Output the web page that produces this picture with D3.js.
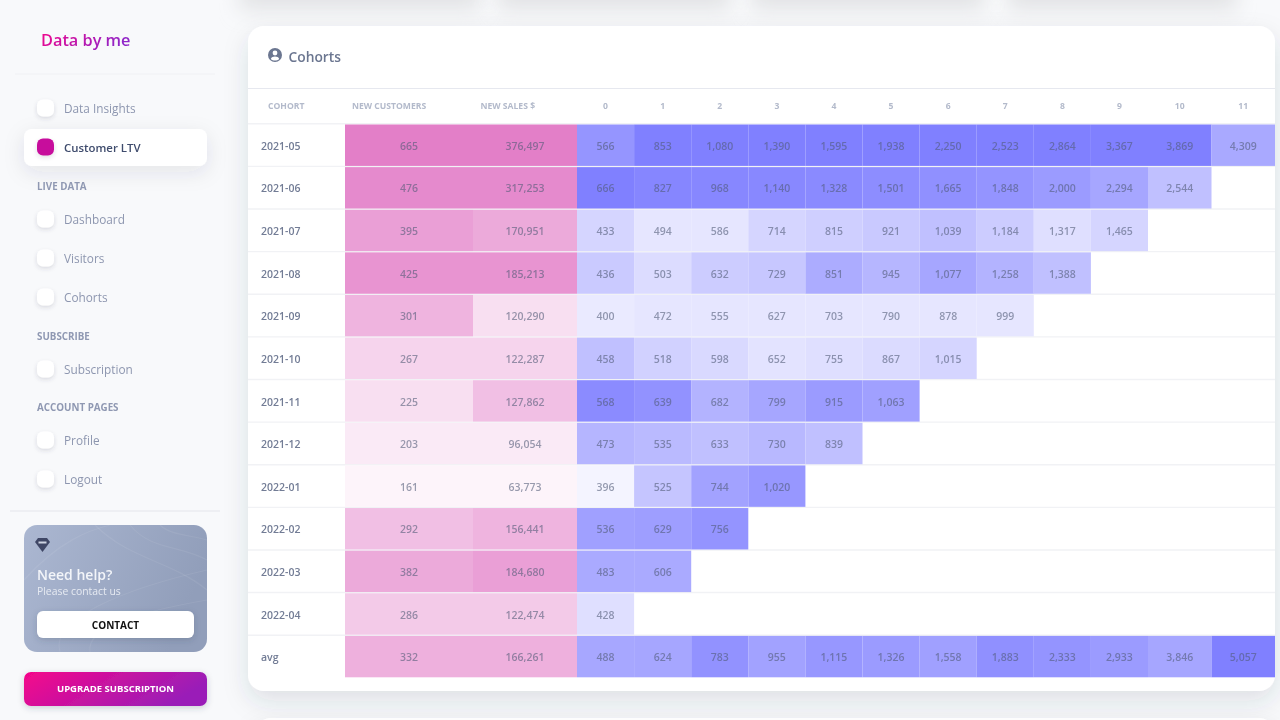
<!doctype html>
<html lang="en">
<head>
  <meta charset="utf-8">
  <script src="https://cdnjs.cloudflare.com/ajax/libs/d3/7.8.5/d3.min.js"></script>
  <style>
    html, body { margin:0; padding:0; background:#f8f9fb; overflow:hidden; }
    svg { display:block; filter:blur(0.45px); }
    text { font-family:"Open Sans", sans-serif; }
  </style>
</head>
<body>
  <div id="chart"></div>
  <script>
    // table data
    var cohorts = ["2021-05","2021-06","2021-07","2021-08","2021-09","2021-10","2021-11","2021-12","2022-01","2022-02","2022-03","2022-04"];
    var newCustomers = [665,476,395,425,301,267,225,203,161,292,382,286];
    var newSales = [376497,317253,170951,185213,120290,122287,127862,96054,63773,156441,184680,122474];
    var months = ["0","1","2","3","4","5","6","7","8","9","10","11"];
    var ltv = [
      [566,853,1080,1390,1595,1938,2250,2523,2864,3367,3869,4309],
      [666,827,968,1140,1328,1501,1665,1848,2000,2294,2544],
      [433,494,586,714,815,921,1039,1184,1317,1465],
      [436,503,632,729,851,945,1077,1258,1388],
      [400,472,555,627,703,790,878,999],
      [458,518,598,652,755,867,1015],
      [568,639,682,799,915,1063],
      [473,535,633,730,839],
      [396,525,744,1020],
      [536,629,756],
      [483,606],
      [428]
    ];
    var avgCustomers = 332;
    var avgSales = 166261;
    var avgLtv = [488,624,783,955,1115,1326,1558,1883,2333,2933,3846,5057];

    // sidebar text
    var navItems = [
      {label:"Data Insights", y:108},
      {label:"Customer LTV", y:147, active:true},
      {label:"Dashboard", y:219},
      {label:"Visitors", y:258},
      {label:"Cohorts", y:297},
      {label:"Subscription", y:369},
      {label:"Profile", y:440},
      {label:"Logout", y:479}
    ];
    var navSections = [{label:"LIVE DATA", y:186},{label:"SUBSCRIBE", y:336},{label:"ACCOUNT PAGES", y:407}];

    var svg = d3.select("#chart").append("svg").attr("width",1280).attr("height",720);
    var defs = svg.append("defs");

    function shadow(id, dy, blur, alpha){
      defs.append("filter").attr("id",id).attr("x","-30%").attr("y","-60%").attr("width","160%").attr("height","240%")
        .append("feDropShadow").attr("dx",0).attr("dy",dy).attr("stdDeviation",blur)
        .attr("flood-color","#3a4256").attr("flood-opacity",alpha);
    }
    shadow("cardShadow",10,12,0.13);
    shadow("navShadow",6,10,0.10);
    shadow("iconShadow",2,2,0.16);
    shadow("btnShadow",2,3,0.22);
    defs.append("filter").attr("id","soft").attr("x","-20%").attr("y","-100%").attr("width","140%").attr("height","300%")
      .append("feGaussianBlur").attr("stdDeviation",10);

    function gradient(id, stops){
      var g = defs.append("linearGradient").attr("id",id).attr("x1","0%").attr("y1","0%").attr("x2","100%").attr("y2","30%");
      stops.forEach(function(s,i){ g.append("stop").attr("offset",i/(stops.length-1)).attr("stop-color",s); });
    }
    gradient("brand",["#f5058a","#9a1fb8"]);
    gradient("logo",["#f5058a","#9026c8"]);
    gradient("help",["#abb7d1","#919eba"]);

    // shadows of the cards cut off above and below
    [[240,240],[498,232],[752,232],[1008,228]].forEach(function(d){
      svg.append("rect").attr("x",d[0]).attr("y",-30).attr("width",d[1]).attr("height",40)
        .attr("fill","#e2e3e5").attr("filter","url(#soft)");
    });
    svg.append("rect").attr("x",255).attr("y",718).attr("width",1020).attr("height",40).attr("rx",16)
      .attr("fill","#fff").attr("filter","url(#cardShadow)");

    /* ---- sidebar ---- */
    var side = svg.append("g");
    side.append("text").attr("x",41).attr("y",46).attr("font-size",16.3).attr("font-weight",600)
      .attr("fill","url(#logo)").text("Data by me");
    side.append("line").attr("x1",15).attr("x2",215).attr("y1",74).attr("y2",74).attr("stroke","#f0f1f4");

    side.append("rect").attr("x",24).attr("y",129).attr("width",183).attr("height",37).attr("rx",8)
      .attr("fill","#fff").attr("filter","url(#navShadow)");

    var nav = side.selectAll("g.nav").data(navItems).enter().append("g").attr("class","nav");
    nav.append("rect").attr("x",37).attr("y",function(d){ return d.y-8.5; })
      .attr("width",17).attr("height",17).attr("rx",6)
      .attr("fill",function(d){ return d.active ? "#c70a9c" : "#fff"; })
      .attr("filter","url(#iconShadow)");
    nav.append("text").attr("x",64).attr("y",function(d){ return d.y+4.8; })
      .attr("font-size",function(d){ return d.active ? 11.4 : 11.8; })
      .attr("font-weight",function(d){ return d.active ? 600 : 400; })
      .attr("fill",function(d){ return d.active ? "#3f4c6d" : "#8d96af"; })
      .text(function(d){ return d.label; });

    side.selectAll("text.section").data(navSections).enter().append("text").attr("class","section")
      .attr("x",37).attr("y",function(d){ return d.y+3.5; })
      .attr("font-size",9.8).attr("font-weight",700).attr("fill","#8f98b2").text(function(d){ return d.label; });

    side.append("line").attr("x1",10).attr("x2",220).attr("y1",511).attr("y2",511).attr("stroke","#e4e6ec").attr("stroke-width",1.2);

    // help card
    var help = side.append("g");
    help.append("rect").attr("x",24).attr("y",525).attr("width",183).attr("height",127).attr("rx",13).attr("fill","url(#help)");
    ["M24 580 C60 540 90 530 110 525","M60 652 C50 620 120 590 207 570","M95 525 C130 560 170 560 207 590",
     "M130 525 C150 550 180 545 207 560","M160 525 C170 535 190 535 207 540","M90 652 C85 625 150 610 207 600"].forEach(function(p){
      help.append("path").attr("d",p).attr("fill","none").attr("stroke","#fff").attr("stroke-opacity",0.07).attr("stroke-width",1.2);
    });
    help.append("path").attr("d","M38 538 H47 L50 542 L42.5 552 L35 542 Z").attr("fill","#3f4766");
    help.append("rect").attr("x",38.5).attr("y",541.5).attr("width",8).attr("height",2).attr("fill","#cdd3e2");
    help.append("text").attr("x",37).attr("y",580).attr("font-size",14).attr("font-weight",600).attr("fill","#f3f5f9").text("Need help?");
    help.append("text").attr("x",37).attr("y",595).attr("font-size",10.4).attr("fill","#e6eaf2").text("Please contact us");
    help.append("rect").attr("x",37).attr("y",611).attr("width",157).attr("height",27).attr("rx",6).attr("fill","#fff").attr("filter","url(#btnShadow)");
    help.append("text").attr("x",115.5).attr("y",628.5).attr("text-anchor","middle").attr("font-size",10).attr("font-weight",700).attr("fill","#111").text("CONTACT");

    side.append("rect").attr("x",24).attr("y",672).attr("width",183).attr("height",34).attr("rx",7)
      .attr("fill","url(#brand)").attr("filter","url(#btnShadow)");
    side.append("text").attr("x",115.5).attr("y",692).attr("text-anchor","middle").attr("font-size",9.5).attr("font-weight",700)
      .attr("fill","#fff").text("UPGRADE SUBSCRIPTION");

    /* ---- cohort card ---- */
    svg.append("rect").attr("x",248).attr("y",26).attr("width",1027).attr("height",665).attr("rx",16)
      .attr("fill","#fff").attr("filter","url(#cardShadow)");

    var icon = svg.append("g").attr("transform","translate(275,55)");
    icon.append("circle").attr("r",7).attr("fill","#6b7690");
    icon.append("circle").attr("cy",-2).attr("r",2.4).attr("fill","#fff");
    icon.append("path").attr("d","M-4.2 4 C-3 0.8 3 0.8 4.2 4 C2 6 -2 6 -4.2 4 Z").attr("fill","#fff");
    svg.append("text").attr("x",288.5).attr("y",62).attr("font-size",13.8).attr("font-weight",600).attr("fill","#6b7690").text("Cohorts");

    svg.append("line").attr("x1",248).attr("x2",1275).attr("y1",88.5).attr("y2",88.5).attr("stroke","#e6e8ef");

    /* ---- scales ---- */
    var monthEdges = d3.range(months.length+1).map(function(i){
      return i <= 10 ? 577 + i*57.1 : 1148 + (i-10)*63.5;
    });
    var x0 = d3.scaleOrdinal().domain(months).range(monthEdges);
    var columnBox = function(m){ return [x0(m), monthEdges[months.indexOf(m)+1]]; };
    var customersBox = [345,473], salesBox = [473,577];

    var rowNames = cohorts.concat(["avg"]);
    var y = d3.scaleBand().domain(rowNames).range([124,678]);

    var pink = d3.scaleLinear().domain([0,1]).range(["#ffffff","#e37fc8"]);
    var blue = d3.scaleLinear().domain([0,1]).range(["#ffffff","#8080ff"]);
    var fmt = d3.format(",");

    // shade is the rank of a value inside its column
    function rankShade(values, v, floor){
      var n = values.length;
      if(n == 1) return 0.68;
      var sorted = values.slice().sort(d3.ascending);
      return Math.max((d3.bisectLeft(sorted,v)+1)/n, floor);
    }

    var cells = [];
    rowNames.forEach(function(r,i){
      var isAvg = r == "avg";
      var c = isAvg ? avgCustomers : newCustomers[i];
      var s = isAvg ? avgSales : newSales[i];
      cells.push({row:r, box:customersBox, value:c, fill:pink(rankShade(isAvg ? newCustomers.concat(c) : newCustomers, c, 0))});
      cells.push({row:r, box:salesBox, value:s, fill:pink(rankShade(isAvg ? newSales.concat(s) : newSales, s, 0))});
      months.forEach(function(m,j){
        var column = ltv.map(function(l){ return l[j]; }).filter(function(v){ return v !== undefined; });
        var v = isAvg ? avgLtv[j] : ltv[i][j];
        if(v === undefined) return;
        var floor = column.length < 12 ? 0.2 : 0;
        var shade = rankShade(isAvg ? column.concat(v) : column, v, floor);
        // the upper ranks of the shorter columns read a little darker
        if(column.length < 12 && column.length > 1 && shade > 0.6) shade = Math.min(1, shade*1.05);
        cells.push({row:r, box:columnBox(m), value:v, fill:blue(shade)});
      });
    });

    /* ---- table ---- */
    var table = svg.append("g");

    table.selectAll("line.rowline").data(rowNames).enter().append("line").attr("class","rowline")
      .attr("x1",248).attr("x2",1275)
      .attr("y1",function(d){ return y(d)-0.2; }).attr("y2",function(d){ return y(d)-0.2; })
      .attr("stroke","#f1f2f5").attr("stroke-width",1.4);

    table.selectAll("rect.cell").data(cells).enter().append("rect").attr("class","cell")
      .attr("x",function(d){ return d.box[0]; })
      .attr("y",function(d){ return y(d.row)+0.5; })
      .attr("width",function(d){ return d.box[1]-d.box[0]; })
      .attr("height",y.bandwidth()-1.2)
      .attr("fill",function(d){ return d.fill; });

    table.selectAll("text.value").data(cells).enter().append("text").attr("class","value")
      .attr("x",function(d){ return (d.box[0]+d.box[1])/2; })
      .attr("y",function(d){ return y(d.row)+y.bandwidth()/2+4.5; })
      .attr("text-anchor","middle").attr("font-size",10.5).attr("font-weight",600)
      .attr("fill","#4f5a76").attr("fill-opacity",0.58)
      .text(function(d){ return fmt(d.value); });

    table.selectAll("text.cohort").data(rowNames).enter().append("text").attr("class","cohort")
      .attr("x",261).attr("y",function(d){ return y(d)+y.bandwidth()/2+4.5; })
      .attr("font-size",10.5).attr("font-weight",600).attr("fill","#727c95")
      .text(function(d){ return d; });

    // header labels
    var headerStyle = function(sel){
      sel.attr("y",108.5).attr("font-size",8.6).attr("font-weight",700).attr("fill","#b3bacb");
    };
    table.append("text").attr("x",268).text("COHORT").call(headerStyle);
    table.append("text").attr("x",352).text("NEW CUSTOMERS").call(headerStyle);
    table.append("text").attr("x",480.5).text("NEW SALES $").call(headerStyle);
    table.selectAll("text.month").data(months).enter().append("text").attr("class","month")
      .attr("x",function(m){ var b = columnBox(m); return (b[0]+b[1])/2; })
      .attr("text-anchor","middle").text(function(m){ return m; }).call(headerStyle);
  </script>
</body>
</html>
